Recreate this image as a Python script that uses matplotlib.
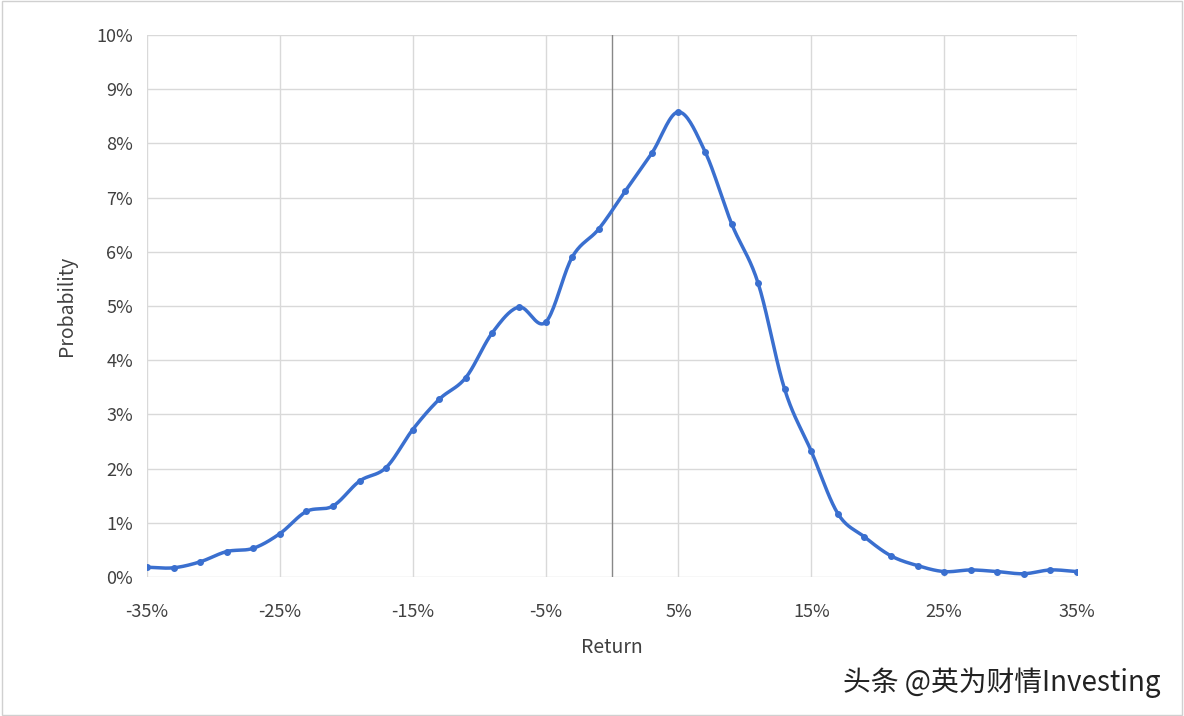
import numpy as np
import matplotlib
matplotlib.use("Agg")
import matplotlib.pyplot as plt
from matplotlib.ticker import FuncFormatter

returns = list(range(-35, 36, 2))
probs = [0.18,0.17,0.28,0.47,0.53,0.80,1.21,1.31,1.77,2.02,2.72,3.28,3.68,4.51,4.98,4.70,
         5.90,6.42,7.12,7.82,8.58,7.85,6.52,5.42,3.46,2.32,1.17,0.74,0.39,0.21,0.10,0.13,
         0.10,0.06,0.13,0.10]
xticks = list(range(-35, 36, 10))

def catmull(x, y, n=20):
    x = np.asarray(x, float); y = np.asarray(y, float)
    px = np.concatenate([[2*x[0]-x[1]], x, [2*x[-1]-x[-2]]])
    py = np.concatenate([[2*y[0]-y[1]], y, [2*y[-1]-y[-2]]])
    xs, ys = [], []
    t = np.linspace(0, 1, n, endpoint=False)
    for i in range(1, len(px)-2):
        for arr, out in ((px, xs), (py, ys)):
            p0, p1, p2, p3 = arr[i-1:i+3]
            out.extend(0.5*((2*p1)+(-p0+p2)*t+(2*p0-5*p1+4*p2-p3)*t**2+(-p0+3*p1-3*p2+p3)*t**3))
    xs.append(x[-1]); ys.append(y[-1])
    return np.array(xs), np.array(ys)

plt.rcParams['font.family'] = ['Noto Sans CJK SC', 'DejaVu Sans']
fig = plt.figure(figsize=(11.84, 7.16), dpi=100)
ax = fig.add_axes([147/1184, 1-577/716, 930/1184, 542/716])
sx, sy = catmull(returns, probs)
ax.plot(sx, sy, color='#3a6fcf', lw=2.5, zorder=3)
ax.plot(returns, probs, 'o', color='#3a6fcf', ms=4, zorder=4)
ax.set_xlim(-35, 35); ax.set_ylim(0, 10)
ax.set_xticks(xticks); ax.set_yticks(range(0, 11))
ax.xaxis.set_major_formatter(FuncFormatter(lambda v, p: f"{v:.0f}%"))
ax.yaxis.set_major_formatter(FuncFormatter(lambda v, p: f"{v:.0f}%"))
ax.grid(True, color='#d9d9d9', lw=1)
ax.axvline(0, color='#888888', lw=1, zorder=2)
for s in ax.spines.values():
    s.set_visible(False)
ax.tick_params(length=0, labelsize=13, colors='#404040', pad=10)
ax.tick_params(axis='x', pad=19)
ax.set_xlabel('Return', fontsize=14, color='#404040', labelpad=11)
ax.set_ylabel('Probability', fontsize=14, color='#404040', labelpad=14)
fig.text(0.98, 0.025, '头条 @英为财情Investing', ha='right', va='bottom', fontsize=20, color='#222222')
fig.patches.append(plt.Rectangle((0.002, 0.002), 0.996, 0.996, transform=fig.transFigure,
                                 fill=False, ec='#d0d0d0', lw=1))
fig.savefig('out.png', dpi=100)
